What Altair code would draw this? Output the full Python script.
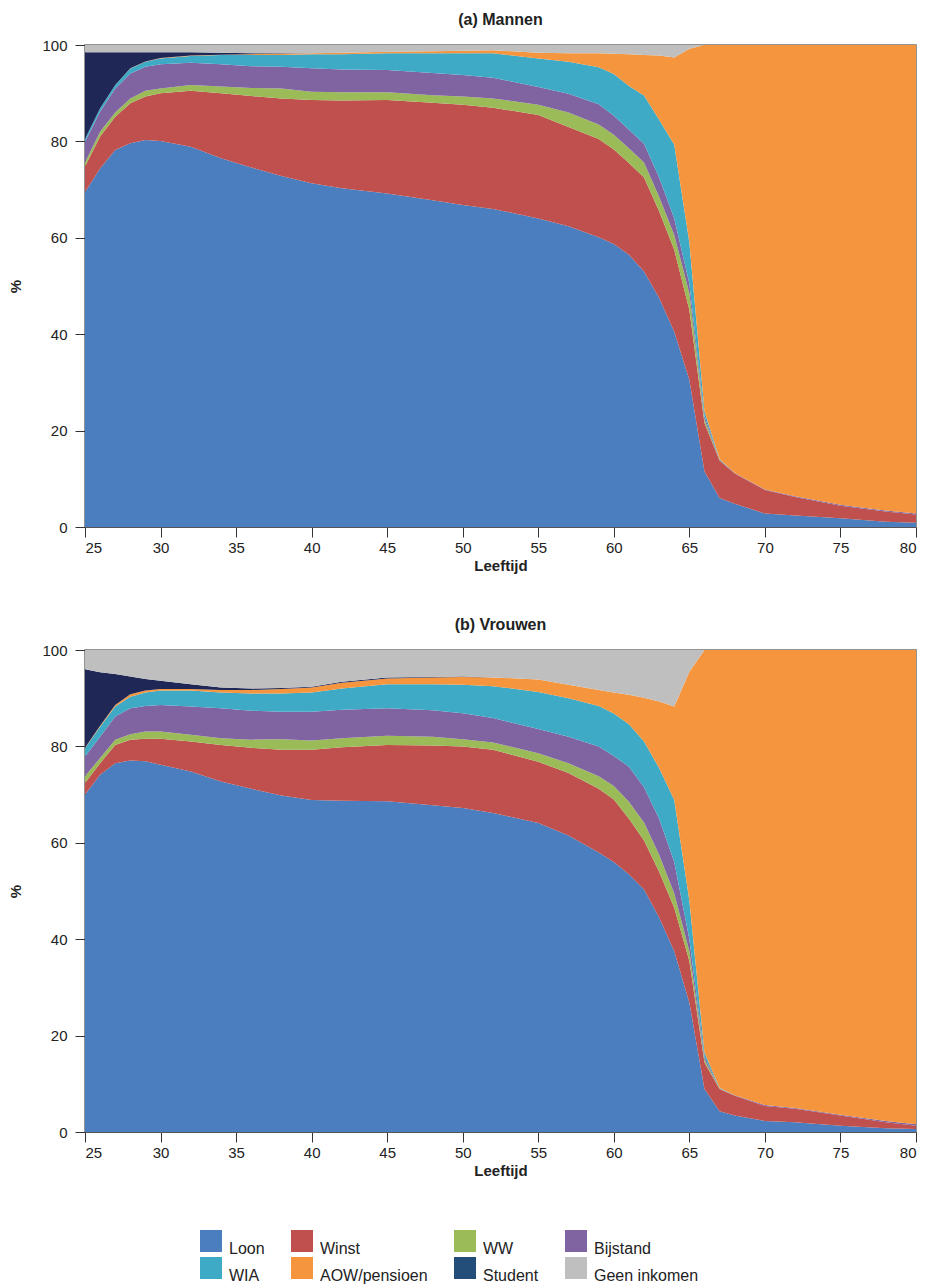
import altair as alt
import pandas as pd

ages = [25, 26, 27, 28, 29, 30, 32, 34, 36, 38, 40, 42, 45, 48, 50, 52, 55, 57,
        59, 60, 61, 62, 63, 64, 65, 66, 67, 68, 70, 72, 75, 78, 80]

series = ["Loon", "Winst", "WW", "Bijstand", "WIA", "AOW/pensioen", "Student", "Geen inkomen"]
area_colors = ["#4a7ebf", "#c0504d", "#9bbb59", "#8064a2", "#3eaac6", "#f5963e", "#1f2757", "#bfbfbf"]
legend_colors = ["#4a7ebf", "#c0504d", "#9bbb59", "#8064a2", "#3eaac6", "#f5963e", "#234e79", "#bfbfbf"]

# (a) Mannen, percentages per age
men_loon = [69.5, 74.4, 78.2, 79.6, 80.3, 80.1, 78.9, 76.5, 74.6, 72.8, 71.3, 70.3, 69.2, 67.8, 66.8, 66.0, 64.0, 62.4,
            60.1, 58.7, 56.5, 53.0, 47.5, 40.5, 30.5, 11.5, 6.0, 4.8, 2.8, 2.4, 1.8, 1.1, 0.9]
men_winst = [5.3, 6.6, 6.9, 8.3, 9.0, 9.9, 11.6, 13.5, 14.8, 16.1, 17.3, 18.2, 19.4, 20.2, 20.8, 21.0, 21.5, 20.6,
             20.4, 19.6, 19.0, 19.5, 18.0, 17.0, 14.5, 10.1, 7.8, 6.3, 4.9, 3.8, 2.6, 2.1, 1.7]
men_ww = [0.8, 1.0, 0.9, 1.0, 1.2, 1.0, 1.2, 1.4, 1.7, 2.1, 1.7, 1.7, 1.6, 1.6, 1.7, 1.9, 2.1, 3.0,
          3.0, 3.1, 3.1, 3.1, 3.0, 3.1, 3.5, 0.7, 0.1, 0.0, 0.0, 0.0, 0.0, 0.0, 0.0]
men_bijstand = [4.3, 4.2, 5.0, 5.2, 5.0, 5.0, 4.6, 4.6, 4.5, 4.5, 4.9, 4.7, 4.6, 4.6, 4.5, 4.3, 3.7, 3.9,
                4.2, 3.9, 3.8, 3.9, 4.0, 3.4, 2.0, 0.7, 0.1, 0.1, 0.1, 0.2, 0.2, 0.2, 0.2]
men_wia = [0.6, 0.7, 0.7, 1.0, 1.0, 1.2, 1.4, 1.9, 2.3, 2.4, 2.9, 3.2, 3.5, 4.1, 4.5, 5.1, 5.9, 6.6,
           7.7, 8.7, 9.1, 10.0, 12.0, 15.3, 8.5, 1.0, 0.1, 0.0, 0.0, 0.0, 0.0, 0.0, 0.0]
men_aow = [0.0, 0.0, 0.0, 0.1, 0.1, 0.1, 0.1, 0.1, 0.2, 0.3, 0.2, 0.3, 0.3, 0.4, 0.5, 0.6, 1.2, 1.8,
           2.9, 4.2, 6.6, 8.4, 13.3, 18.1, 40.2, 76.0, 85.9, 88.8, 92.2, 93.6, 95.4, 96.6, 97.2]
men_student = [18.0, 11.6, 6.8, 3.3, 1.9, 1.2, 0.7, 0.4, 0.2, 0.1, 0.0, 0.0, 0.0, 0.0, 0.0, 0.0, 0.0, 0.0,
               0.0, 0.0, 0.0, 0.0, 0.0, 0.0, 0.0, 0.0, 0.0, 0.0, 0.0, 0.0, 0.0, 0.0, 0.0]
men_geen = [1.5, 1.5, 1.5, 1.5, 1.5, 1.5, 1.5, 1.6, 1.7, 1.7, 1.7, 1.6, 1.4, 1.3, 1.2, 1.1, 1.6, 1.7,
            1.7, 1.8, 1.9, 2.1, 2.2, 2.6, 0.8, 0.0, 0.0, 0.0, 0.0, 0.0, 0.0, 0.0, 0.0]

# (b) Vrouwen, percentages per age
women_loon = [70.0, 74.1, 76.5, 77.1, 76.9, 76.2, 74.8, 72.7, 71.2, 69.8, 68.9, 68.7, 68.6, 67.8, 67.2, 66.2, 64.1, 61.5,
              58.0, 56.0, 53.5, 50.3, 44.5, 37.5, 26.8, 8.9, 4.3, 3.4, 2.3, 2.0, 1.3, 0.8, 0.6]
women_winst = [2.4, 2.4, 3.8, 4.3, 4.7, 5.4, 6.2, 7.6, 8.5, 9.5, 10.4, 11.1, 11.7, 12.4, 12.8, 13.1, 12.7, 13.0,
               13.2, 13.0, 11.5, 10.2, 9.5, 9.0, 8.7, 5.5, 4.6, 4.1, 3.1, 2.8, 2.1, 1.2, 0.7]
women_ww = [1.4, 1.1, 1.1, 1.1, 1.5, 1.5, 1.4, 1.4, 1.7, 2.2, 1.9, 1.9, 1.9, 1.8, 1.5, 1.5, 1.8, 2.0,
            2.6, 2.8, 3.5, 3.7, 3.5, 3.0, 2.0, 0.6, 0.1, 0.0, 0.0, 0.0, 0.0, 0.0, 0.0]
women_bijstand = [4.1, 4.4, 4.8, 5.4, 5.3, 5.5, 5.9, 6.2, 6.0, 5.7, 6.0, 5.9, 5.7, 5.5, 5.4, 5.1, 5.0, 5.5,
                  6.2, 6.2, 7.3, 7.3, 7.5, 6.5, 2.5, 0.6, 0.1, 0.1, 0.2, 0.2, 0.2, 0.3, 0.3]
women_wia = [1.7, 2.1, 2.1, 2.4, 2.8, 3.0, 3.3, 3.3, 3.6, 3.8, 4.0, 4.4, 5.0, 5.4, 5.9, 6.6, 7.7, 8.0,
             8.4, 8.8, 8.8, 9.5, 10.5, 12.9, 8.0, 0.9, 0.1, 0.0, 0.0, 0.0, 0.0, 0.0, 0.0]
women_aow = [0.1, 0.2, 0.3, 0.5, 0.4, 0.3, 0.3, 0.5, 0.7, 0.9, 1.0, 1.2, 1.2, 1.4, 1.6, 1.8, 2.6, 2.8,
             3.3, 4.4, 6.1, 9.1, 13.8, 19.4, 47.5, 83.5, 90.8, 92.4, 94.4, 95.0, 96.4, 97.7, 98.4]
women_student = [16.3, 11.1, 6.4, 3.7, 2.4, 1.7, 1.0, 0.5, 0.3, 0.2, 0.2, 0.2, 0.2, 0.1, 0.1, 0.0, 0.0, 0.0,
                 0.0, 0.0, 0.0, 0.0, 0.0, 0.0, 0.0, 0.0, 0.0, 0.0, 0.0, 0.0, 0.0, 0.0, 0.0]
women_geen = [4.0, 4.6, 5.0, 5.5, 6.0, 6.4, 7.1, 7.8, 8.0, 7.9, 7.6, 6.6, 5.7, 5.6, 5.5, 5.7, 6.1, 7.2,
              8.3, 8.8, 9.3, 9.9, 10.7, 11.7, 4.5, 0.0, 0.0, 0.0, 0.0, 0.0, 0.0, 0.0, 0.0]

men = [men_loon, men_winst, men_ww, men_bijstand, men_wia, men_aow, men_student, men_geen]
women = [women_loon, women_winst, women_ww, women_bijstand, women_wia, women_aow, women_student, women_geen]


def to_long(columns):
    rows = []
    for i, (name, vals) in enumerate(zip(series, columns)):
        for a, v in zip(ages, vals):
            rows.append({"Leeftijd": a, "Bron": name, "Aandeel": v, "volgorde": i})
    return pd.DataFrame(rows)


FONT = "Liberation Sans"
W, H = 831, 482

x_enc = alt.X("Leeftijd:Q",
              scale=alt.Scale(domain=[25, 80], nice=False, zero=False),
              axis=alt.Axis(values=list(range(25, 81, 5)), title="Leeftijd",
                            labelPadding=3, titlePadding=3))
y_axis = alt.Axis(values=[0, 20, 40, 60, 80, 100], title="%", titlePadding=18, labelPadding=8)


def panel(df, title, with_legend=False):
    area = alt.Chart(df).mark_area(clip=True, interpolate="linear").encode(
        x=x_enc,
        y=alt.Y("Aandeel:Q", stack="zero",
                scale=alt.Scale(domain=[0, 100], nice=False), axis=y_axis),
        color=alt.Color("Bron:N", scale=alt.Scale(domain=series, range=area_colors), legend=None),
        order=alt.Order("volgorde:Q", sort="ascending"),
    )
    if not with_legend:
        return area.properties(width=W, height=H, title=title)
    leg = alt.Chart(df).mark_square(opacity=0).encode(
        x=alt.X("Leeftijd:Q"),
        y=alt.Y("Aandeel:Q"),
        color=alt.Color(
            "Bron:N",
            scale=alt.Scale(domain=series, range=legend_colors),
            legend=alt.Legend(
                title=None, orient="none", legendX=115, legendY=580,
                direction="horizontal", columns=4, columnPadding=26, rowPadding=-3,
                symbolType="square", symbolSize=484, symbolStrokeWidth=0,
                symbolOpacity=1, labelFont=FONT, labelFontSize=16,
                labelColor="#222", labelOffset=7, labelBaseline="top",
            ),
        ),
    )
    return alt.layer(area, leg).resolve_scale(color="independent").properties(
        width=W, height=H, title=title)


top = panel(to_long(men), "(a) Mannen")
bottom = panel(to_long(women), "(b) Vrouwen", with_legend=True)

chart = alt.vconcat(top, bottom, spacing=42).properties(
    padding={"left": 0, "top": 3, "right": 0, "bottom": 0}
).configure_view(
    stroke="#707070", strokeWidth=1.5
).configure_axis(
    grid=False, labelFont=FONT, labelFontSize=15, labelColor="#222",
    titleFont=FONT, titleFontSize=15, titleFontWeight="bold", titleColor="#222",
    tickColor="#333", domainColor="#555", tickSize=10,
).configure_title(
    font=FONT, fontSize=16, fontWeight="bold", anchor="middle", offset=10, color="#222"
)

chart.save("out.html", embed_options={"renderer": "svg", "actions": False})
